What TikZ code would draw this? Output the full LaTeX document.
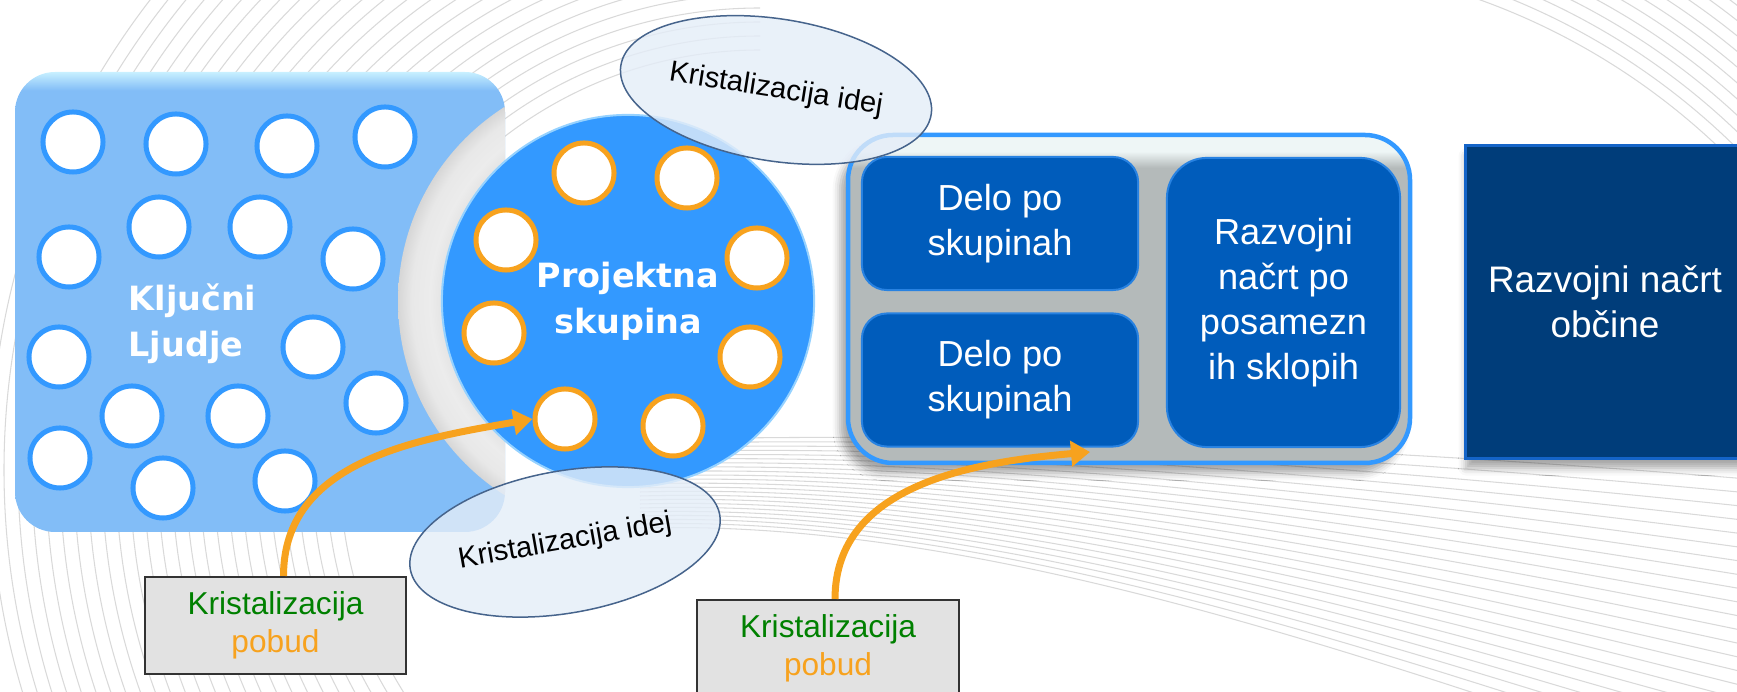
\documentclass[tikz,border=0pt]{standalone}
\usepackage{fontspec}
\setmainfont{Liberation Sans}
\newfontfamily\boldsans{DejaVu Sans}
\usetikzlibrary{arrows.meta, shapes.geometric, shadows.blur}
\definecolor{pcblue}{RGB}{51,153,255}
\definecolor{pcrim}{RGB}{150,210,255}
\definecolor{keyblue}{RGB}{130,189,247}
\definecolor{keytop}{RGB}{200,240,255}
\definecolor{pcorange}{RGB}{247,162,30}
\definecolor{deloblue}{RGB}{0,92,187}
\definecolor{deloedge}{RGB}{40,130,225}
\definecolor{navy}{RGB}{0,61,122}
\definecolor{navyedge}{RGB}{20,100,200}
\definecolor{ideafill}{RGB}{228,237,248}
\definecolor{ideaedge}{RGB}{70,100,140}
\definecolor{pobudgreen}{RGB}{0,128,0}
\definecolor{pobudfill}{RGB}{226,226,226}
\definecolor{contgrey}{RGB}{180,186,186}
\definecolor{contlight}{RGB}{238,246,246}
\pgfdeclareverticalshading{keyshade}{100bp}{color(0bp)=(keyblue); color(73bp)=(keyblue); color(75bp)=(keytop); color(100bp)=(keytop)}
\pgfdeclareradialshading{ringshade}{\pgfpoint{0bp}{0bp}}{color(0bp)=(gray!22); color(20bp)=(gray!22); color(21.5bp)=(white!85!gray); color(23.5bp)=(gray!18); color(25bp)=(gray!32); color(50bp)=(gray!32)}
\pgfdeclareverticalshading{contshade}{100bp}{color(0bp)=(contgrey); color(70bp)=(contgrey); color(72.5bp)=(contlight); color(100bp)=(contlight)}

\begin{document}
\begin{tikzpicture}[x = 0.01cm, y = -0.01cm,
		bgline/.style = {gray!30, line width = 0.3pt},
		keyperson/.style = {circle, draw = pcblue, fill = white, line width = 0.05cm, minimum size = 0.6cm, inner sep = 0},
		member/.style = {circle, draw = pcorange, fill = white, line width = 0.05cm, minimum size = 0.6cm, inner sep = 0},
		workbox/.style = {rectangle, rounded corners = 0.25cm, fill = deloblue, draw = deloedge, line width = 0.02cm, text = white, align = center, font = \fontsize{10.3}{12.8}\selectfont},
		idea/.style = {ellipse, fill = ideafill, fill opacity = 0.8, text opacity = 1, draw = ideaedge, line width = 0.015cm, minimum width = 3.14cm, minimum height = 1.42cm, inner sep = 0, font = \fontsize{8.3}{10}\selectfont},
		spur/.style = {rectangle, fill = pobudfill, draw = black!80, line width = 0.02cm, minimum width = 2.61cm, minimum height = 0.97cm, align = center, font = \fontsize{9}{10.8}\selectfont},
		spurarrow/.style = {pcorange, line width = 0.07cm, -{Triangle[length = 0.19cm, width = 0.25cm]}}]
	\useasboundingbox (0, 0) rectangle (1737, 692);
	\begin{scope}
		\clip (0, 0) rectangle (760, 692);
		\foreach \r in {420, 434, ..., 780}
			\draw[bgline] (760, 470) circle[radius = \r];
	\end{scope}
	\foreach \i in {0, ..., 22}
		\draw[bgline] (640, 440 + \i * 4) .. controls (1000, 430 + \i * 4) and (1400, 450 + \i * 10) .. (1760, 480 + \i * 14);
	\begin{scope}
		\clip (1300, 0) rectangle (1737, 200);
		\foreach \r in {680, 692, ..., 800}
			\draw[bgline] (1250, 640) circle[radius = \r];
	\end{scope}
	\draw[rounded corners = 0.45cm, draw = pcblue, line width = 0.045cm, shading = contshade,
		blur shadow = {shadow xshift = -0.08cm, shadow yshift = -0.1cm, shadow opacity = 35}] (848, 135) rectangle (1410, 463);
	\node[rectangle, fill = navy, draw = navyedge, line width = 0.03cm, minimum width = 2.78cm, minimum height = 3.12cm, text = white, align = center, font = \fontsize{10.5}{12.8}\selectfont,
		blur shadow = {shadow xshift = 0cm, shadow yshift = -0.1cm, shadow opacity = 35}] (obcina) at (1605, 302) {Razvojni načrt\\občine};
	\begin{scope}
		\clip[rounded corners = 0.4cm] (15, 72) rectangle (505, 532);
		\shade[shading = keyshade] (15, 72) rectangle (505, 532);
		\shade[shading = ringshade] (628, 301) circle[radius = 230];
	\end{scope}
	\foreach \x/\y [count = \n] in {73/142, 176/144, 287/146, 385/137, 159/227, 260/227, 69/257, 353/259, 313/347, 59/357, 132/416, 238/416, 376/403, 60/458, 163/488, 285/481}
		\node[keyperson] (k\n) at (\x, \y) {};
	\node[anchor = west, inner sep = 0, text = white, align = left, font = \boldsans\bfseries\fontsize{9.5}{13.1}\selectfont] (kljucni) at (128, 324) {Ključni\\Ljudje};
	\node[circle, fill = pcblue, draw = pcrim, line width = 0.02cm, minimum size = 3.72cm, inner sep = 0, text = white, align = center, font = \boldsans\bfseries\fontsize{9.5}{13.1}\selectfont] (proj) at (628, 301) {Projektna\\skupina};
	\foreach \x/\y [count = \n] in {584/173, 687/178, 506/240, 757/258, 494/333, 750/357, 565/419, 673/426}
		\node[member] (m\n) at (\x, \y) {};
	\node[workbox, minimum width = 2.76cm, minimum height = 1.33cm] (delo1) at (1000, 223.5) {Delo po\\skupinah};
	\node[workbox, minimum width = 2.76cm, minimum height = 1.33cm] (delo2) at (1000, 380) {Delo po\\skupinah};
	\node[workbox, rounded corners = 0.4cm, minimum width = 2.33cm, minimum height = 2.89cm] (razvoj) at (1283.5, 302.5) {Razvojni\\načrt po\\posamezn\\ih sklopih};
	\node[idea, rotate = -9] (idea1) at (776, 90) {Kristalizacija idej};
	\node[idea, rotate = 10] (idea2) at (565, 542) {Kristalizacija idej};
	\node[spur] (pobud1) at (275.5, 625.5) {\textcolor{pobudgreen}{Kristalizacija}\\\textcolor{pcorange}{pobud}};
	\node[spur] (pobud2) at (828, 648.5) {\textcolor{pobudgreen}{Kristalizacija}\\\textcolor{pcorange}{pobud}};
	\coordinate (tip2) at (1090, 452);
	\draw[spurarrow] ([xshift = 0.08cm]pobud1.north) .. controls +(0, -115) and +(-115, 20) .. (m7.west);
	\draw[spurarrow] ([xshift = 0.07cm]pobud2.north) .. controls +(0, -115) and +(-115, 10) .. (tip2);
\end{tikzpicture}
\end{document}
